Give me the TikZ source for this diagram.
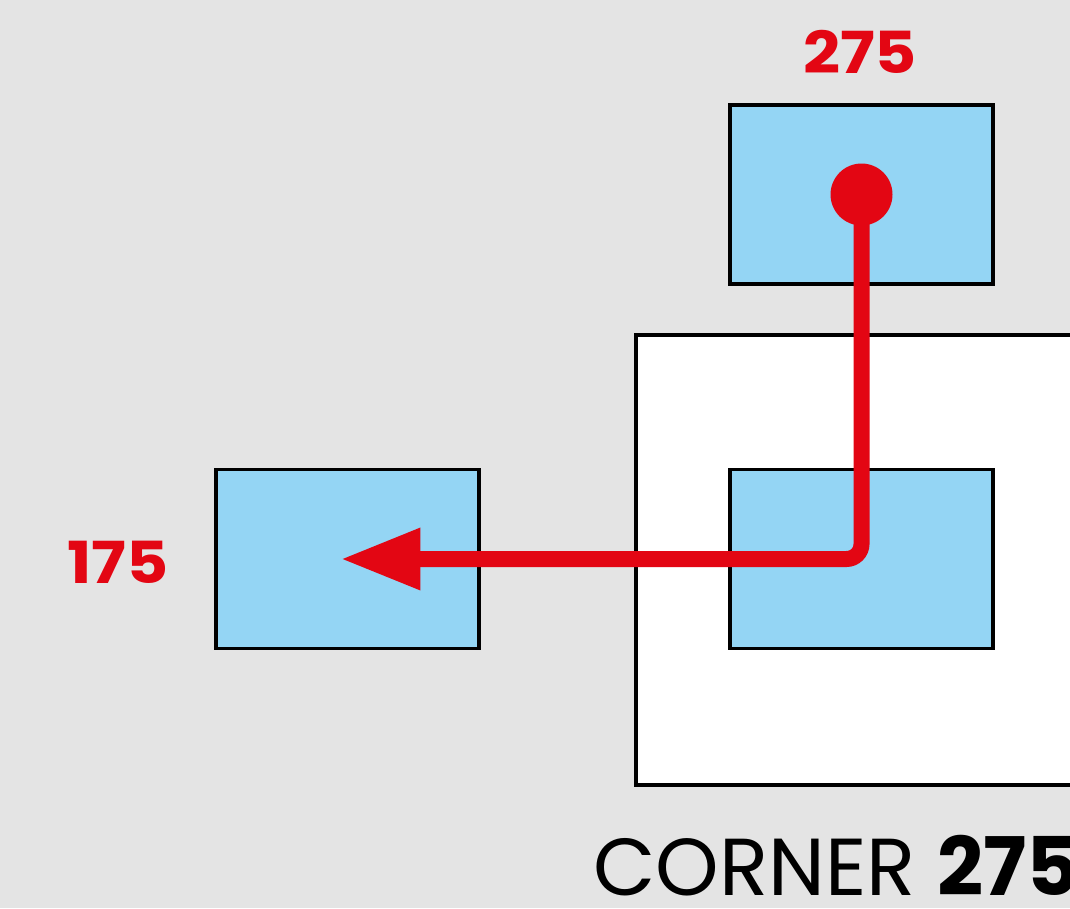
\documentclass[tikz,border=0pt]{standalone}
\usepackage{fontspec}
\setmainfont{Poppins}
\newfontfamily\heavyfont{Poppins}[FakeStretch=1.12]
\usetikzlibrary{arrows.meta}
\definecolor{bgGray}{HTML}{E4E4E4}
\definecolor{boxBlue}{HTML}{94D5F4}
\definecolor{pathRed}{HTML}{E30613}
\begin{document}
\begin{tikzpicture}[x=0.02cm, y=-0.02cm,
  blue box/.style={shape=rectangle, draw=black, fill=boxBlue, line width=0.07cm, inner sep=0pt, minimum width=5.26cm, minimum height=3.58cm},
  red label/.style={text=pathRed, font=\heavyfont\fontsize{33}{36}\selectfont\bfseries},
  red path/.style={draw=pathRed, line width=0.32cm, rounded corners=0.3cm, -{Triangle[length=1.6cm, width=1.16cm]}}]
\useasboundingbox (0,0) rectangle (1070,908);
\clip (0,0) rectangle (1070,908);
\fill[bgGray] (0,0) rectangle (1070,908);
\draw[fill=white, line width=0.07cm] (636,785) rectangle (1200,335);
\node[blue box] (top) at (861.5,194.5) {};
\node[blue box] (mid) at (861.5,559) {};
\node[blue box] (left) at (347.5,559) {};
\node[red label] (topNum) at (860,52) {275};
\node[red label] (leftNum) at (118,562) {175};
\node[shape=circle, fill=pathRed, inner sep=0pt, minimum size=1.24cm] (dot) at (top.center) {};
\path[red path] (dot.center) -- (mid.center) -- ([xshift=-0.14cm]left.center);
\node[anchor=base west, inner sep=0pt, font=\fontsize{46}{50}\selectfont] (corner) at (593,895) {CORNER \textbf{275}};
\end{tikzpicture}
\end{document}
